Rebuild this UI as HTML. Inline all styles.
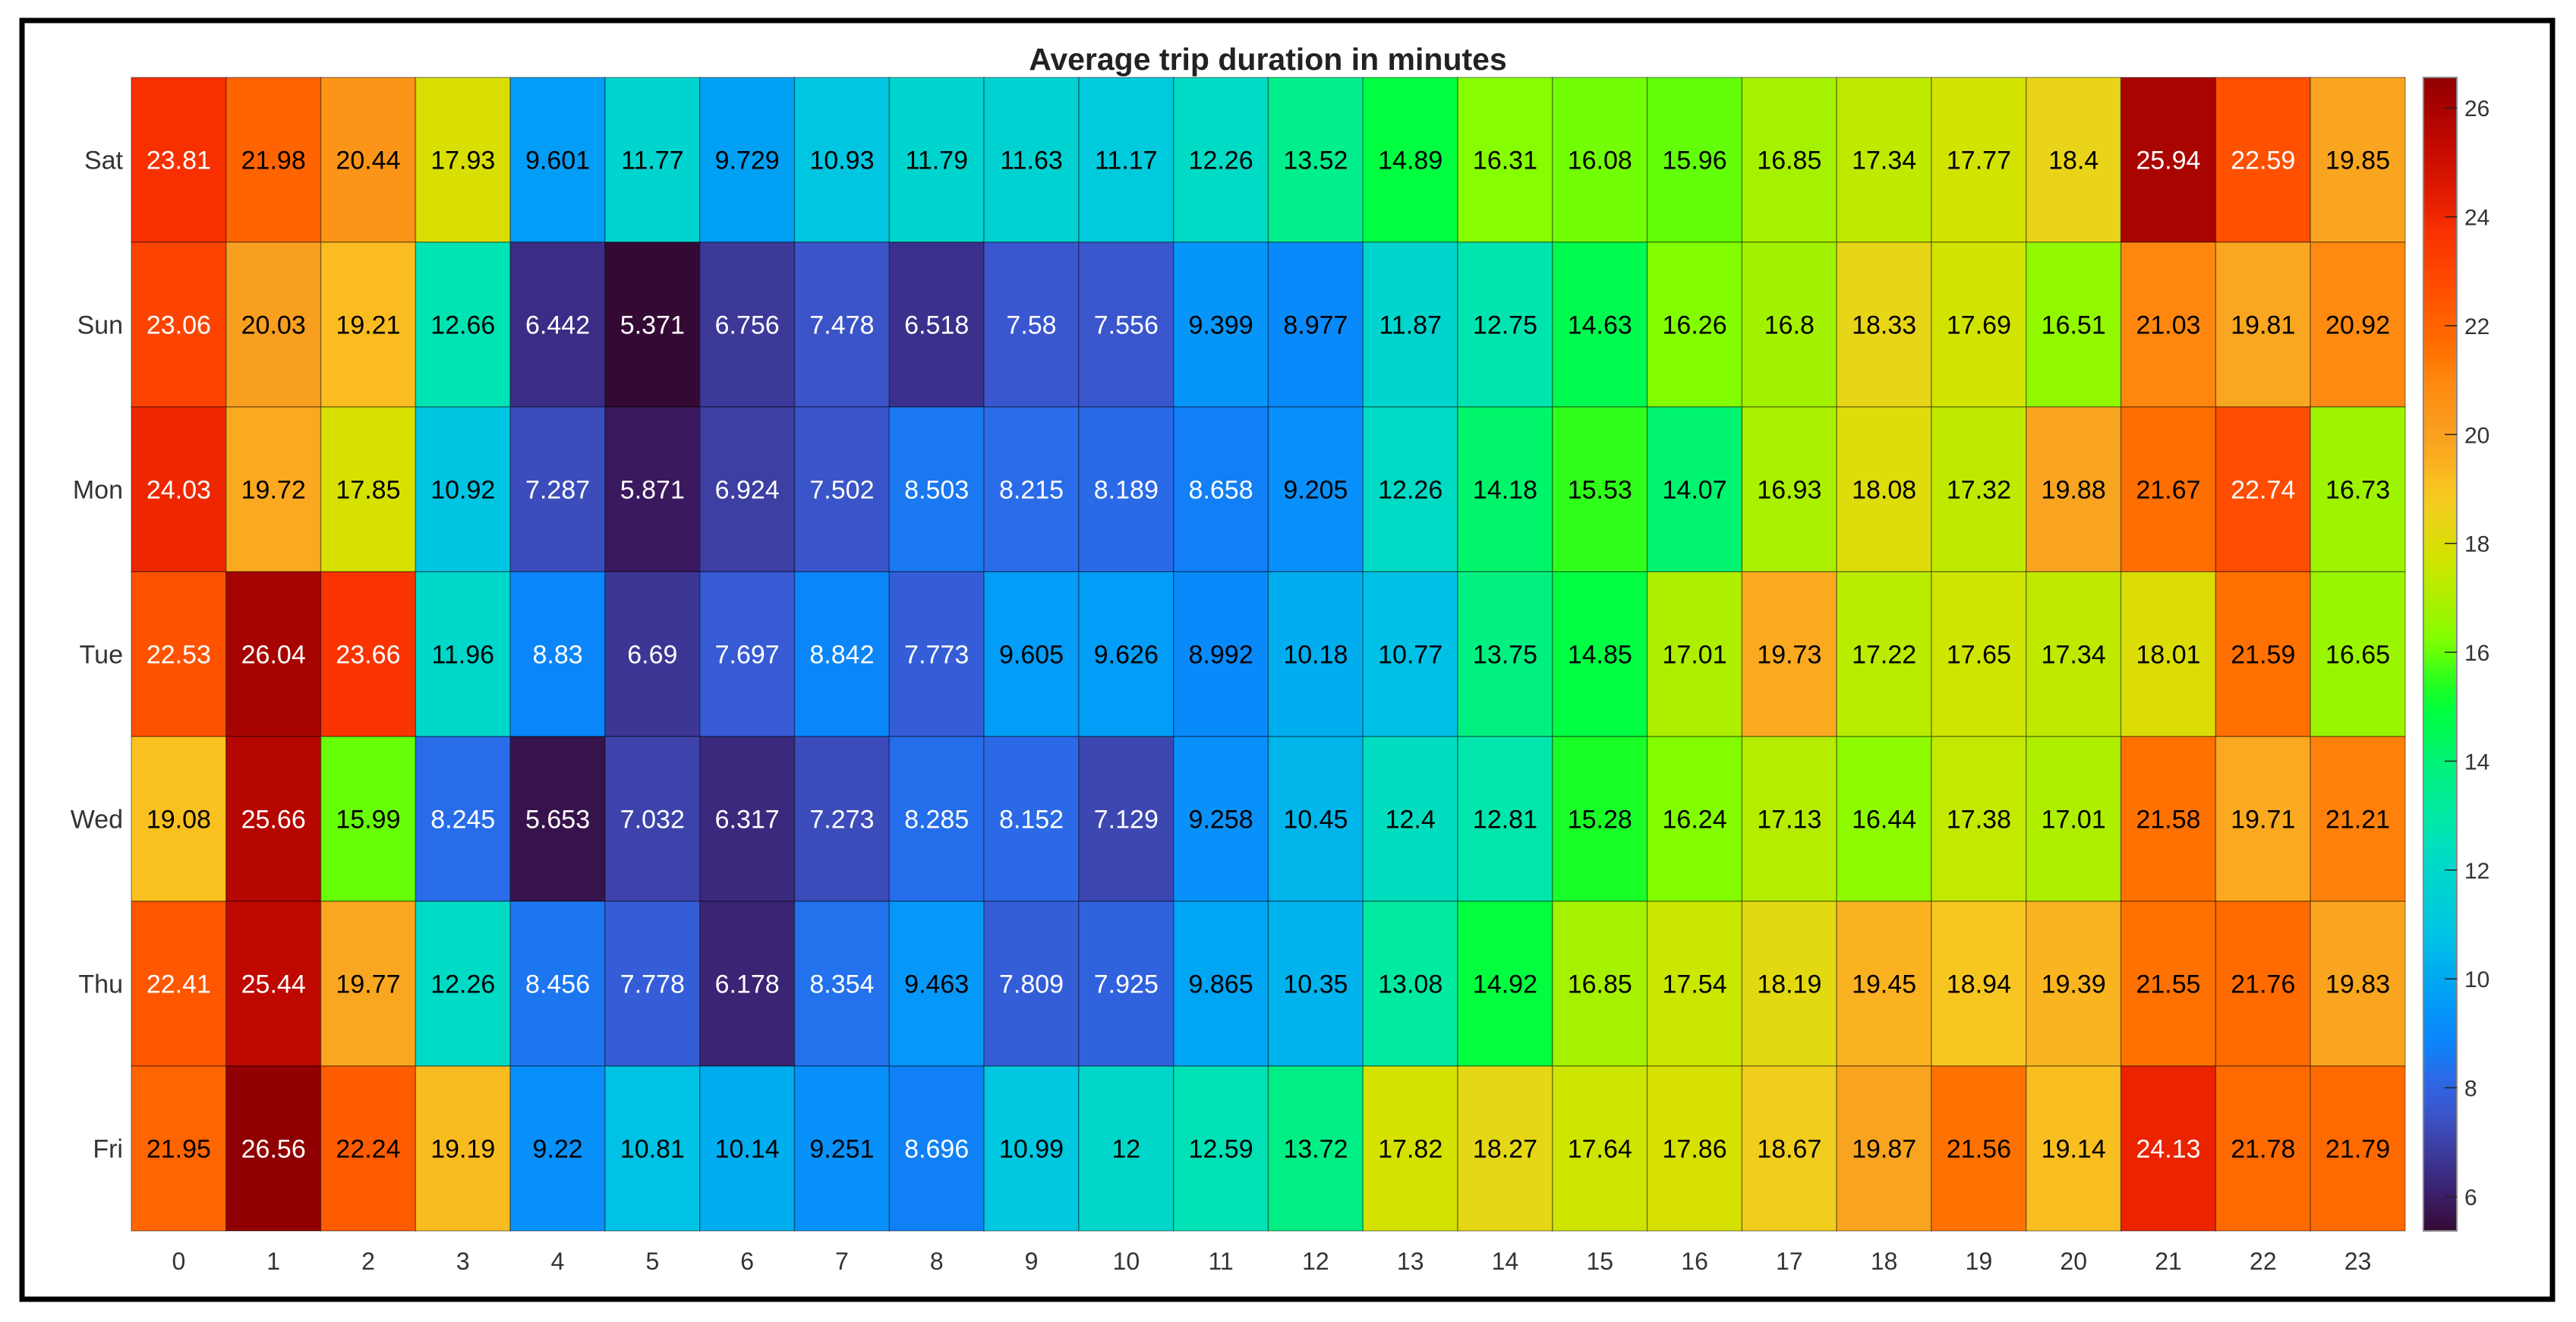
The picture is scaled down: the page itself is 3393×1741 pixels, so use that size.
<!DOCTYPE html>
<html><head><meta charset="utf-8"><style>
html,body{margin:0;padding:0;background:#fff;}
svg{display:block;}
</style></head><body>
<svg id="chart" width="3393" height="1741" viewBox="0 0 3393 1741" xmlns="http://www.w3.org/2000/svg" font-family="Liberation Sans, sans-serif">
<rect x="29" y="27" width="3333" height="1684" fill="#fff" stroke="#000" stroke-width="7"/>
<text x="1670" y="92" text-anchor="middle" font-size="41" font-weight="bold" fill="#222">Average trip duration in minutes</text>
<g id="cells"></g>
<g id="ylabels"></g>
<g id="xlabels"></g>
<defs><linearGradient id="cbgrad" x1="0" y1="1" x2="0" y2="0"></linearGradient></defs>
<g id="colorbar"></g>
</svg>
<script>
const days = ["Sat","Sun","Mon","Tue","Wed","Thu","Fri"];
const hours = ["0","1","2","3","4","5","6","7","8","9","10","11","12","13","14","15","16","17","18","19","20","21","22","23"];
const satVals = [23.81,21.98,20.44,17.93,9.601,11.77,9.729,10.93,11.79,11.63,11.17,12.26,13.52,14.89,16.31,16.08,15.96,16.85,17.34,17.77,18.4,25.94,22.59,19.85];
const sunVals = [23.06,20.03,19.21,12.66,6.442,5.371,6.756,7.478,6.518,7.58,7.556,9.399,8.977,11.87,12.75,14.63,16.26,16.8,18.33,17.69,16.51,21.03,19.81,20.92];
const monVals = [24.03,19.72,17.85,10.92,7.287,5.871,6.924,7.502,8.503,8.215,8.189,8.658,9.205,12.26,14.18,15.53,14.07,16.93,18.08,17.32,19.88,21.67,22.74,16.73];
const tueVals = [22.53,26.04,23.66,11.96,8.83,6.69,7.697,8.842,7.773,9.605,9.626,8.992,10.18,10.77,13.75,14.85,17.01,19.73,17.22,17.65,17.34,18.01,21.59,16.65];
const wedVals = [19.08,25.66,15.99,8.245,5.653,7.032,6.317,7.273,8.285,8.152,7.129,9.258,10.45,12.4,12.81,15.28,16.24,17.13,16.44,17.38,17.01,21.58,19.71,21.21];
const thuVals = [22.41,25.44,19.77,12.26,8.456,7.778,6.178,8.354,9.463,7.809,7.925,9.865,10.35,13.08,14.92,16.85,17.54,18.19,19.45,18.94,19.39,21.55,21.76,19.83];
const friVals = [21.95,26.56,22.24,19.19,9.22,10.81,10.14,9.251,8.696,10.99,12,12.59,13.72,17.82,18.27,17.64,17.86,18.67,19.87,21.56,19.14,24.13,21.78,21.79];
const cbTicks = [6,8,10,12,14,16,18,20,22,24,26];
const cMin = 5.371, cMax = 26.56;

const NS="http://www.w3.org/2000/svg";
const rows=[satVals,sunVals,monVals,tueVals,wedVals,thuVals,friVals];
const L=173,T=102,R=3168,B=1621;
const cw=(R-L)/hours.length, ch=(B-T)/days.length;
const xPos=i=>L+i*cw, yPos=j=>T+j*ch;
const stops=[[5.371,"#340a34"],[5.9,"#3a1a60"],[6.5,"#3b2f8a"],[7.0,"#3d42a8"],[7.6,"#3a58d0"],[8.2,"#2a6ae8"],[8.8,"#0a85fa"],[9.3,"#0892fa"],[9.7,"#00a0f5"],[10.4,"#00b4ec"],[11.0,"#00c8e0"],[12.3,"#00dcc4"],[12.9,"#00e8a8"],[13.8,"#00f080"],[14.9,"#00ff40"],[15.4,"#20ff20"],[16.2,"#80ff00"],[16.9,"#a8f000"],[17.5,"#c8e800"],[17.9,"#d8e000"],[18.3,"#e6d618"],[18.9,"#f8c820"],[19.5,"#fbb020"],[20.0,"#f8a020"],[21.0,"#ff8810"],[21.6,"#ff7000"],[22.6,"#ff5000"],[23.8,"#f83000"],[24.2,"#e82000"],[25.4,"#c00800"],[26.56,"#900000"]];
function hex(h){return [1,3,5].map(k=>parseInt(h.substr(k,2),16));}
function color(v){
  if(v<=stops[0][0])return stops[0][1];
  for(let k=1;k<stops.length;k++){
    if(v<=stops[k][0]){const a=hex(stops[k-1][1]),b=hex(stops[k][1]);const t=(v-stops[k-1][0])/(stops[k][0]-stops[k-1][0]);
      return "rgb("+a.map((x,i)=>Math.round(x+(b[i]-x)*t)).join(",")+")";}
  }
  return stops[stops.length-1][1];
}
const cells=document.getElementById("cells");
rows.forEach((vals,j)=>{vals.forEach((v,i)=>{
  const r=document.createElementNS(NS,"rect");
  r.setAttribute("x",xPos(i));r.setAttribute("y",yPos(j));r.setAttribute("width",cw);r.setAttribute("height",ch);
  r.setAttribute("fill",color(v));r.setAttribute("stroke","rgba(0,0,0,0.35)");r.setAttribute("stroke-width","1.5");
  
  
  cells.appendChild(r);
  const t=document.createElementNS(NS,"text");
  t.setAttribute("x",xPos(i)+cw/2);t.setAttribute("y",yPos(j)+ch/2+12);t.setAttribute("text-anchor","middle");
  t.setAttribute("font-size","34");t.setAttribute("fill",(v<8.97||v>22.3)?"#fff":"#000");
  t.textContent=String(v);
  
  
  cells.appendChild(t);
});});
const yl=document.getElementById("ylabels");
days.forEach((d,j)=>{const t=document.createElementNS(NS,"text");
  t.setAttribute("x",162);t.setAttribute("y",yPos(j)+ch/2+12);t.setAttribute("text-anchor","end");t.setAttribute("font-size","34");t.setAttribute("fill","#333");
  t.textContent=d;
  
  
  yl.appendChild(t);});
const xl=document.getElementById("xlabels");
hours.forEach((h,i)=>{const t=document.createElementNS(NS,"text");
  t.setAttribute("x",xPos(i)+cw/2);t.setAttribute("y",1672);t.setAttribute("text-anchor","middle");t.setAttribute("font-size","32");t.setAttribute("fill","#333");
  t.textContent=h;
  
  
  xl.appendChild(t);});
const grad=document.getElementById("cbgrad");
for(let k=0;k<=60;k++){const v=cMin+(cMax-cMin)*k/60;const s=document.createElementNS(NS,"stop");s.setAttribute("offset",(k/60));s.setAttribute("stop-color",color(v));grad.appendChild(s);}
const cb=document.getElementById("colorbar");
const cbX=3192,cbW=44;
const cbY=v=>B-(v-cMin)/(cMax-cMin)*(B-T);
const cr=document.createElementNS(NS,"rect");
cr.setAttribute("x",cbX);cr.setAttribute("y",T);cr.setAttribute("width",cbW);cr.setAttribute("height",B-T);cr.setAttribute("fill","url(#cbgrad)");cr.setAttribute("stroke","#888");cr.setAttribute("stroke-width","2");


cb.appendChild(cr);
cbTicks.forEach(v=>{const y=cbY(v);
  const l=document.createElementNS(NS,"line");l.setAttribute("x1",cbX+cbW-16);l.setAttribute("x2",cbX+cbW);l.setAttribute("y1",y);l.setAttribute("y2",y);l.setAttribute("stroke","#222");l.setAttribute("stroke-width","1.5");
  
  
  cb.appendChild(l);
  const t=document.createElementNS(NS,"text");t.setAttribute("x",3246);t.setAttribute("y",y+11);t.setAttribute("font-size","30");t.setAttribute("fill","#333");
  t.textContent=String(v);
  
  
  cb.appendChild(t);});
</script>
</body></html>
